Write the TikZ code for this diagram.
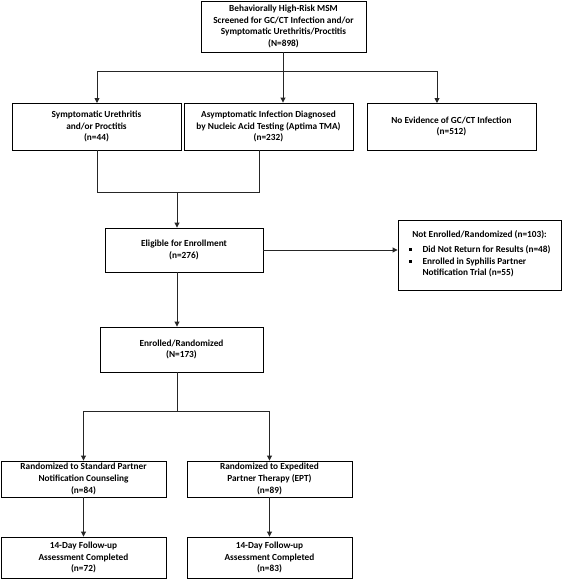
\documentclass[tikz,border=0pt]{standalone}
\usepackage{fontspec}
\setmainfont{Carlito}
\usetikzlibrary{arrows.meta}
\newcommand{\sqb}{\rule[1.3pt]{3pt}{3pt}}
\tikzset{
  box/.style={draw=black, line width=0.9pt, fill=white, align=center, inner sep=1pt,
    font=\fontsize{9.3pt}{11.8pt}\selectfont\bfseries},
  conn/.style={draw=black!85, line width=0.9pt},
  arr/.style={conn, -{Triangle[length=5pt,width=5pt]}}
}
\begin{document}
\begin{tikzpicture}[x=1pt,y=-1pt]
\useasboundingbox (0,0) rectangle (568,579);
% boxes
\node[box, minimum width=165, minimum height=51] (top) at (283.5,26.5)
  {Behaviorally High-Risk MSM\\Screened for GC/CT Infection and/or\\Symptomatic Urethritis/Proctitis\\(N=898)};
\node[box, minimum width=169, minimum height=47] (b1) at (96.5,126.5)
  {Symptomatic Urethritis\\and/or Proctitis\\(n=44)};
\node[box, minimum width=169, minimum height=47] (b2) at (268.5,126.5)
  {Asymptomatic Infection Diagnosed\\by Nucleic Acid Testing (Aptima TMA)\\(n=232)};
\node[box, minimum width=169, minimum height=47] (b3) at (451.5,126.5)
  {No Evidence of GC/CT Infection\\(n=512)};
\node[box, minimum width=158, minimum height=44] (elig) at (184,250)
  {Eligible for Enrollment\\(n=276)};
\node[box, minimum width=163, minimum height=70] (ne) at (479.5,255)
  {Not Enrolled/Randomized (n=103):\\[4pt]
   \begin{tabular}{@{}l@{\hspace{11pt}}l@{}}
   \sqb & Did Not Return for Results (n=48)\\
   \sqb & Enrolled in Syphilis Partner\\
        & Notification Trial (n=55)
   \end{tabular}};
\node[box, minimum width=163, minimum height=45] (enr) at (181.5,349.5)
  {Enrolled/Randomized\\(N=173)};
\node[box, minimum width=165, minimum height=36] (rL) at (83.5,479)
  {Randomized to Standard Partner\\Notification Counseling\\(n=84)};
\node[box, minimum width=165, minimum height=36] (rR) at (269.5,479)
  {Randomized to Expedited\\Partner Therapy (EPT)\\(n=89)};
\node[box, minimum width=165, minimum height=41] (fL) at (83.5,557.5)
  {14-Day Follow-up\\Assessment Completed\\(n=72)};
\node[box, minimum width=165, minimum height=41] (fR) at (269.5,557.5)
  {14-Day Follow-up\\Assessment Completed\\(n=83)};
% connectors
\coordinate (jt) at (283,71);
\coordinate (a1) at (97,103);
\coordinate (a3) at (437,103);
\draw[arr] (jt |- top.south) -- (jt |- b2.north);
\draw[arr] (jt) -| (a1);
\draw[arr] (jt) -| (a3);
\coordinate (m1) at (97,192);
\coordinate (m2) at (259,192);
\coordinate (mc) at (177,192);
\draw[conn] (m1 |- b1.south) -- (m1) -- (m2) -- (m2 |- b2.south);
\draw[arr] (mc) -- (mc |- elig.north);
\draw[arr] (elig.east) -- (elig.east -| ne.west);
\draw[arr] (mc |- elig.south) -- (mc |- enr.north);
\coordinate (s) at (177,411);
\draw[conn] (s |- enr.south) -- (s);
\draw[arr] (s) -| (rL.north);
\draw[arr] (s) -| (rR.north);
\draw[arr] (rL.south) -- (fL.north);
\draw[arr] (rR.south) -- (fR.north);
\end{tikzpicture}
\end{document}
